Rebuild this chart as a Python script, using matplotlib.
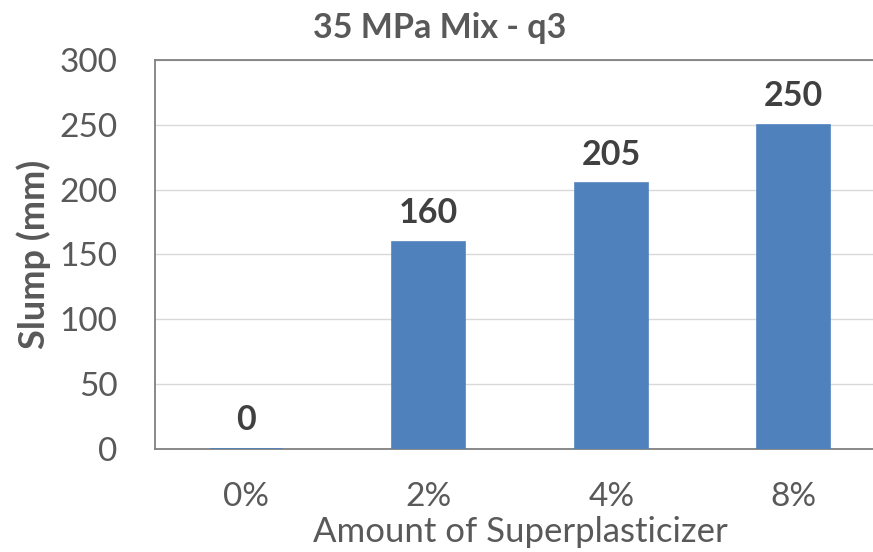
import matplotlib
matplotlib.use("Agg")
import matplotlib.pyplot as plt

categories = ["0%", "2%", "4%", "8%"]
slump = [0, 160, 205, 250]
y_ticks = [0, 50, 100, 150, 200, 250, 300]

plt.rcParams['font.family'] = ['Lato', 'DejaVu Sans']

fig = plt.figure(figsize=(8.73, 5.52), dpi=100)
ax = fig.add_axes([155/873, 1-449/552, 730/873, (449-60)/552])

bar_color = "#4F81BD"
x = list(range(len(categories)))
ax.bar(x, slump, width=0.4, color=bar_color, edgecolor=bar_color, linewidth=1.2, zorder=3)

ax.set_xlim(-0.5, len(categories) - 0.5)
ax.set_ylim(0, 300)
ax.set_yticks(y_ticks)
ax.set_xticks(x)
ax.set_xticklabels(categories)

ax.grid(axis='y', color='#D9D9D9', linewidth=1, zorder=0)
ax.set_axisbelow(True)
for s in ['left', 'top', 'bottom', 'right']:
    ax.spines[s].set_color('#808080')
    ax.spines[s].set_linewidth(1.3)

ax.tick_params(axis='y', length=0, pad=27, labelsize=24, labelcolor='#595959')
ax.tick_params(axis='x', length=0, pad=24, labelsize=24, labelcolor='#595959')

for xi, v in zip(x, slump):
    ax.annotate(f"{v}", (xi, v), xytext=(0, 9), textcoords='offset points',
                ha='center', va='bottom', fontsize=24.5, fontweight='bold', color='#404040')

ax.set_ylabel("Slump (mm)", fontsize=26, fontweight='bold', color='#595959', labelpad=6)
ax.set_xlabel("Amount of Superplasticizer", fontsize=25, color='#595959', labelpad=3)

fig.text(440/873, 1-28/552, "35 MPa Mix - q3", ha='center', va='center',
         fontsize=24.5, fontweight='bold', color='#595959')

fig.savefig("out.png", dpi=100)
